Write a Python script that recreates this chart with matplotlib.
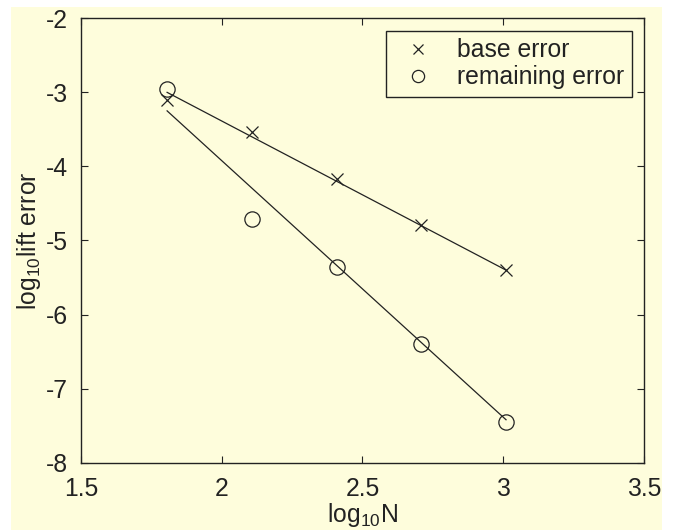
import matplotlib.pyplot as plt
from matplotlib.patches import Rectangle
from matplotlib import font_manager

# log10 N for N = 64 .. 1024
logN = [1.806, 2.107, 2.408, 2.709, 3.010]
base_err = [-3.10, -3.53, -4.17, -4.79, -5.40]
remaining_err = [-2.95, -4.71, -5.36, -6.40, -7.45]

# fitted lines (end points)
fit_x = [1.806, 3.010]
base_fit = [-3.00, -5.40]
remaining_fit = [-3.25, -7.42]

xticks = [1.5, 2, 2.5, 3, 3.5]
xticklabels = ['1.5', '2', '2.5', '3', '3.5']
yticks = [-8, -7, -6, -5, -4, -3, -2]
yticklabels = ['-8', '-7', '-6', '-5', '-4', '-3', '-2']

cream = '#fefddc'
ink = '#222222'

names = {f.name for f in font_manager.fontManager.ttflist}
fam = 'Liberation Sans Narrow' if 'Liberation Sans Narrow' in names else 'Liberation Sans'
plt.rcParams['font.family'] = [fam, 'DejaVu Sans']
plt.rcParams['mathtext.fontset'] = 'custom'
plt.rcParams['mathtext.rm'] = fam
plt.rcParams['mathtext.it'] = fam
fs = 17.8

fig = plt.figure(figsize=(6.81, 5.30), dpi=100, facecolor='white')
bg = Rectangle((0.0162, 0.0), 0.9558, 0.9868, transform=fig.transFigure,
               facecolor=cream, edgecolor='none', zorder=-10)
fig.add_artist(bg)
ax = fig.add_axes([0.1189, 0.127, 0.8267, 0.8385])
ax.set_facecolor(cream)

ax.plot(fit_x, base_fit, color=ink, lw=0.9)
ax.plot(fit_x, remaining_fit, color=ink, lw=0.9)
ax.plot(logN, base_err, ls='none', marker='x', ms=9, mew=0.9, color=ink, label='base error')
ax.plot(logN, remaining_err, ls='none', marker='o', ms=11, mew=0.9, mfc='none', mec=ink,
        label='remaining error')

ax.set_xlim(1.5, 3.5)
ax.set_ylim(-8, -2)
ax.set_xticks(xticks)
ax.set_xticklabels(xticklabels)
ax.set_yticks(yticks)
ax.set_yticklabels(yticklabels)
ax.tick_params(direction='in', length=5, width=0.8, color=ink, labelsize=fs,
               labelcolor=ink, top=True, right=True)
ax.tick_params(axis='x', pad=10)
ax.tick_params(axis='y', pad=9.5)
for s in ax.spines.values():
    s.set_color(ink)
    s.set_linewidth(1.0)

ax.set_xlabel(r'log$_{\mathrm{10}}$N', fontsize=fs, color=ink, labelpad=0)
ax.set_ylabel(r'log$_{\mathrm{10}}$lift error', fontsize=fs, color=ink, labelpad=2)

leg = ax.legend(loc='upper right', bbox_to_anchor=(0.9787, 0.9714), borderaxespad=0,
                fontsize=fs, fancybox=False, framealpha=1, edgecolor=ink,
                markerscale=0.8, handlelength=2.0, handletextpad=0.6, borderpad=0.3,
                labelspacing=0.12)
leg.get_frame().set_facecolor(cream)
leg.get_frame().set_linewidth(1.0)
for t in leg.get_texts():
    t.set_color(ink)

fig.savefig('out.png', dpi=100, facecolor='white')
